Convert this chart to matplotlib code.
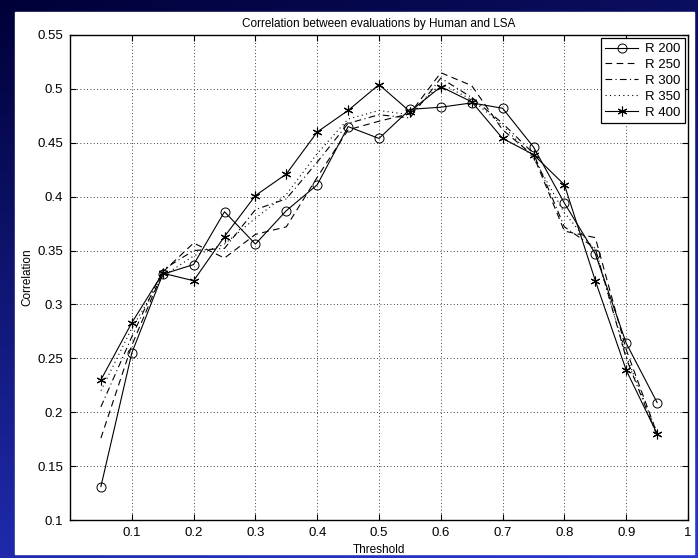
import numpy as np
import matplotlib
matplotlib.use('Agg')
import matplotlib.pyplot as plt
from matplotlib.patches import Rectangle

plt.rcParams['font.family'] = ['Liberation Sans', 'DejaVu Sans']

# values
thresh = [0.05, 0.1, 0.15, 0.2, 0.25, 0.3, 0.35, 0.4, 0.45, 0.5,
          0.55, 0.6, 0.65, 0.7, 0.75, 0.8, 0.85, 0.9, 0.95]
r200 = [0.131, 0.255, 0.328, 0.337, 0.386, 0.356, 0.387, 0.411, 0.465, 0.454,
        0.481, 0.483, 0.487, 0.482, 0.446, 0.394, 0.347, 0.264, 0.209]
r250 = [0.176, 0.262, 0.330, 0.357, 0.343, 0.365, 0.372, 0.418, 0.462, 0.470,
        0.477, 0.515, 0.503, 0.462, 0.438, 0.368, 0.362, 0.258, 0.180]
r300 = [0.205, 0.270, 0.332, 0.350, 0.352, 0.388, 0.398, 0.432, 0.468, 0.476,
        0.473, 0.510, 0.492, 0.468, 0.440, 0.372, 0.352, 0.250, 0.178]
r350 = [0.220, 0.278, 0.326, 0.345, 0.356, 0.380, 0.402, 0.440, 0.472, 0.480,
        0.476, 0.505, 0.490, 0.466, 0.436, 0.385, 0.350, 0.252, 0.181]
r400 = [0.230, 0.283, 0.329, 0.322, 0.363, 0.401, 0.421, 0.460, 0.480, 0.504,
        0.479, 0.502, 0.488, 0.454, 0.439, 0.411, 0.322, 0.239, 0.180]
labels = ['R 200', 'R 250', 'R 300', 'R 350', 'R 400']

fig = plt.figure(figsize=(6.98, 5.58), dpi=100)

# blue slide background with a white panel on top
bg = fig.add_axes([0, 0, 1, 1], zorder=-10)
yy, xx = np.mgrid[0:1:200j, 0:1:200j]
t = np.clip(0.75 * yy + 0.25 * xx, 0, 1)
top = np.array([0.0, 0.0, 0.22])
bot = np.array([0.16, 0.22, 0.82])
img = top[None, None, :] * (1 - t[..., None]) + bot[None, None, :] * t[..., None]
bg.imshow(img, extent=[0, 1, 1, 0], aspect='auto')
bg.add_patch(Rectangle((0.0215, 0.0072), 0.9728, 0.9713, color='white',
                       transform=fig.transFigure))
bg.set_xlim(0, 1)
bg.set_ylim(1, 0)
bg.axis('off')

ax = fig.add_axes([0.1003, 0.0681, 0.8854, 0.8692])
ast = (6, 2, 0)
ax.plot(thresh, r200, 'k-', marker='o', mfc='none', ms=6.5, mew=0.7, lw=0.8, label=labels[0])
ax.plot(thresh, r250, 'k--', lw=0.8, dashes=(6, 4), label=labels[1])
ax.plot(thresh, r300, 'k-.', lw=0.8, dashes=(6, 3, 1, 3), label=labels[2])
ax.plot(thresh, r350, color='k', ls=':', lw=0.8, dashes=(1, 3), label=labels[3])
ax.plot(thresh, r400, 'k-', marker=ast, ms=7, mew=0.8, lw=0.8, label=labels[4])

ax.set_xlim(0, 1)
ax.set_ylim(0.1, 0.55)
ax.set_xticks(np.arange(0.1, 1.01, 0.1))
ax.set_xticklabels(['0.1', '0.2', '0.3', '0.4', '0.5', '0.6', '0.7', '0.8', '0.9', '1'])
ax.set_yticks(np.arange(0.1, 0.551, 0.05))
ax.set_yticklabels(['0.1', '0.15', '0.2', '0.25', '0.3', '0.35', '0.4', '0.45', '0.5', '0.55'])
ax.tick_params(direction='in', top=True, right=True, length=4, width=0.8,
               labelsize=9.5, pad=5)
ax.grid(True, color='k', ls=':', lw=0.6, dashes=(1, 3))
for s in ax.spines.values():
    s.set_linewidth(1.0)

ax.set_title('Correlation between evaluations by Human and LSA', fontsize=8.5, pad=5.5)
ax.set_xlabel('Threshold', fontsize=8.5, labelpad=3.5)
ax.set_ylabel('Correlation', fontsize=8.5, labelpad=3)

leg = ax.legend(loc='upper right', fontsize=9.5, frameon=True, fancybox=False,
                edgecolor='k', framealpha=1, borderpad=0.35, labelspacing=0.28,
                handlelength=2.5, handletextpad=0.5, borderaxespad=0.25)
leg.get_frame().set_linewidth(0.9)

fig.savefig('out.png', dpi=100)
